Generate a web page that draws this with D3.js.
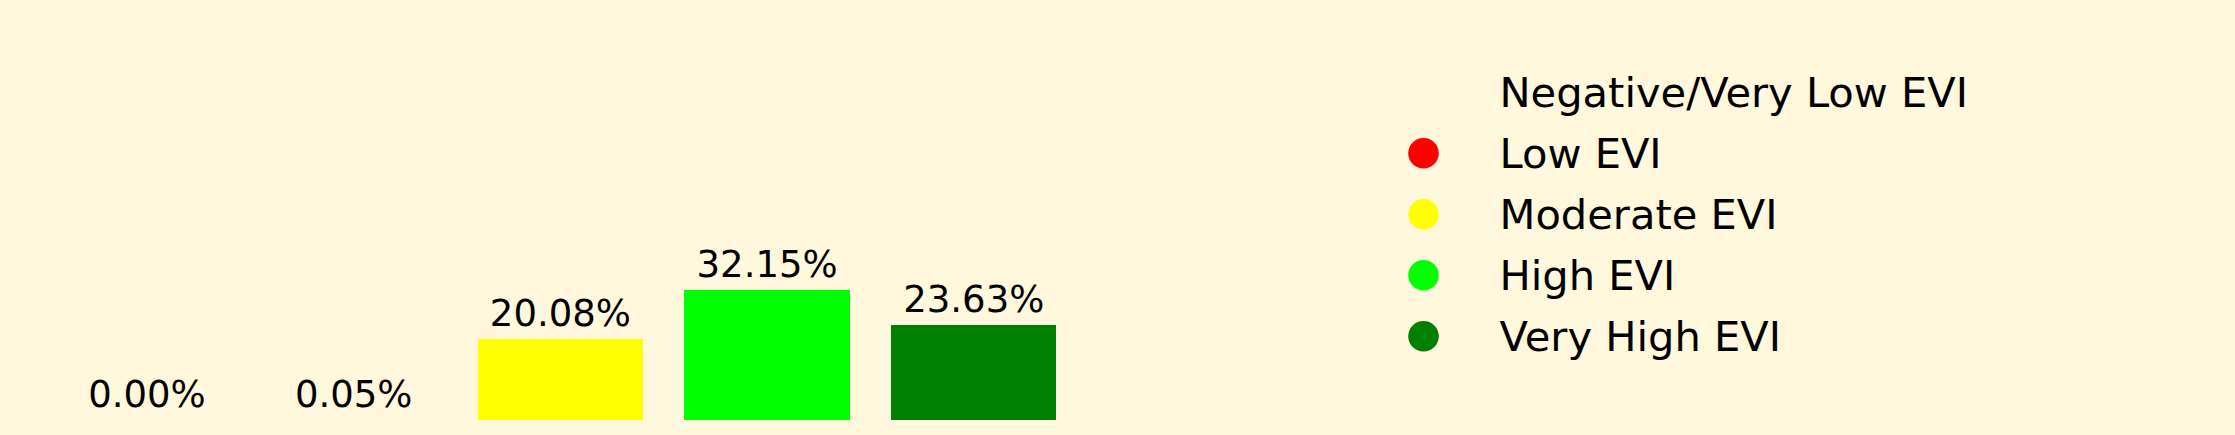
<!DOCTYPE html>
<html>
<head>
<meta charset="utf-8">
<script src="https://cdn.jsdelivr.net/npm/d3@7"></script>
<style>
html, body { margin: 0; padding: 0; background: #FFF8DC; }
svg { display: block; }
text { font-family: "DejaVu Sans", sans-serif; fill: #000; }
</style>
</head>
<body>
<svg id="chart" width="2235" height="435"></svg>
<script>
const categories = ["Negative/Very Low EVI", "Low EVI", "Moderate EVI", "High EVI", "Very High EVI"];
const percentages = [0.00, 0.05, 20.08, 32.15, 23.63];
const colors = ["none", "#FF0000", "#FFFF00", "#00FF00", "#008000"];
const labels = ["0.00%", "0.05%", "20.08%", "32.15%", "23.63%"];

const W = 2235, H = 435;
const svg = d3.select("#chart");
svg.append("rect").attr("width", W).attr("height", H).attr("fill", "#FFF8DC");

const x = d3.scaleBand().domain(categories).range([14.7, 1106.1]).paddingInner(0.2).paddingOuter(0.24);
const y = d3.scaleLinear().domain([0, 35]).range([420, 420 - 35 * 4.04]);

const g = svg.append("g");
g.selectAll("rect.bar").data(categories).join("rect")
  .attr("class", "bar")
  .attr("shape-rendering", "crispEdges")
  .attr("x", d => x(d))
  .attr("width", x.bandwidth())
  .attr("y", (d, i) => y(percentages[i]))
  .attr("height", (d, i) => y(0) - y(percentages[i]))
  .attr("fill", (d, i) => colors[i]);

g.selectAll("text.lbl").data(categories).join("text")
  .attr("class", "lbl")
  .attr("x", d => x(d) + x.bandwidth() / 2)
  .attr("y", (d, i) => y(percentages[i]) - 13)
  .attr("text-anchor", "middle")
  .style("font-size", "37px")
  .text((d, i) => labels[i]);

// legend
const ly = d3.scalePoint().domain(categories).range([92.3, 336.3]);
const leg = svg.append("g");
const items = leg.selectAll("g").data(categories).join("g")
  .attr("transform", d => `translate(0,${ly(d)})`);
items.append("circle")
  .attr("cx", 1423.5).attr("cy", 0).attr("r", 15.3)
  .attr("fill", (d, i) => colors[i]);
items.append("text")
  .attr("x", 1499.5).attr("y", 15)
  .style("font-size", "41.6px")
  .text(d => d);
</script>
</body>
</html>
